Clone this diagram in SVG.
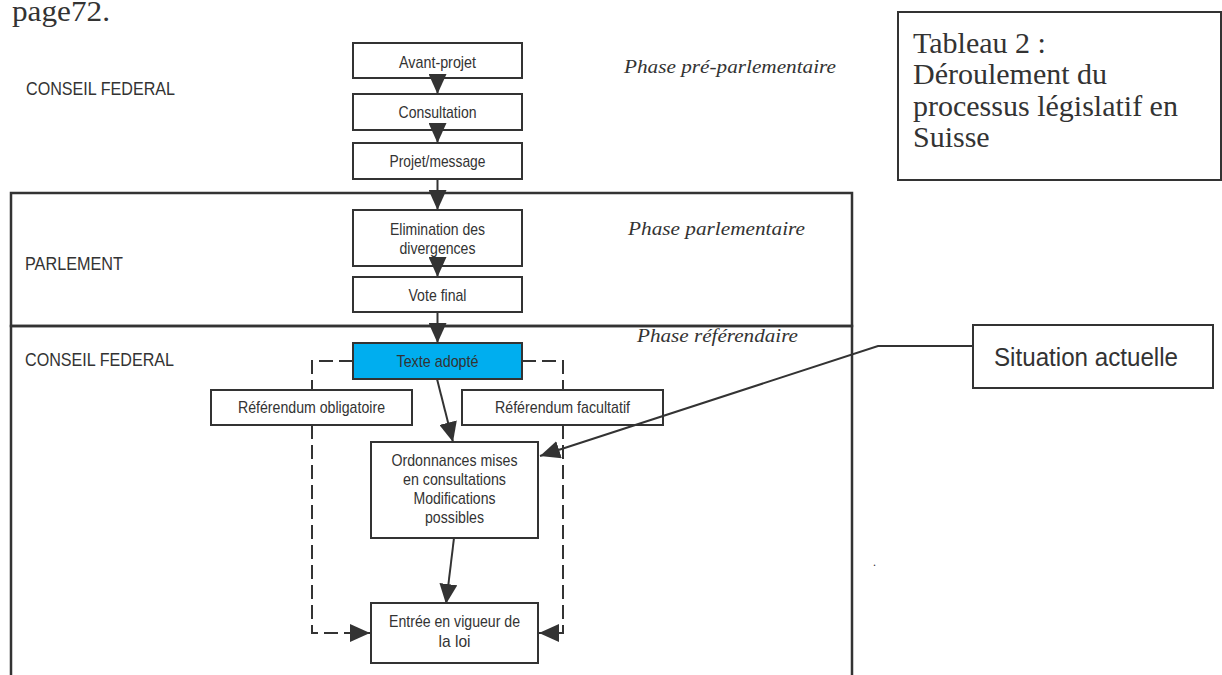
<svg xmlns="http://www.w3.org/2000/svg" width="1222" height="675" viewBox="0 0 1222 675">
  <style>
    .bg { fill: #ffffff; }
    .box { fill: #ffffff; stroke: #333333; stroke-width: 2; }
    .blue { fill: #00AEEF; stroke: #333333; stroke-width: 2; }
    .frame { fill: none; stroke: #333333; stroke-width: 2.5; }
    .lbl { font-family: "Liberation Sans", Arial, sans-serif; font-size: 17px; fill: #333333; text-anchor: middle; }
    .side { font-family: "Liberation Sans", Arial, sans-serif; font-size: 18.5px; fill: #333333; }
    .phase { font-family: "Liberation Serif", "Times New Roman", serif; font-style: italic; font-size: 19px; fill: #333333; }
    .serif { font-family: "Liberation Serif", "Times New Roman", serif; font-size: 30px; fill: #333333; }
    .conn { fill: none; stroke: #333333; stroke-width: 2; }
    .dash { fill: none; stroke: #333333; stroke-width: 2; stroke-dasharray: 14 6; }
  </style>
  <defs>
    <marker id="arr" viewBox="0 0 20 18" refX="20" refY="9" markerWidth="20" markerHeight="18" markerUnits="userSpaceOnUse" orient="auto">
      <path d="M0,0 L20,9 L0,18 Z" fill="#333333"/>
    </marker>
  </defs>
  <rect class="bg" x="0" y="0" width="1222" height="675"/>

  <text class="serif" x="12" y="21" textLength="98" lengthAdjust="spacingAndGlyphs">page72.</text>

  <g id="frames">
    <rect class="frame" x="11" y="193" width="841" height="133"/>
    <path class="frame" d="M11,676 V326 H852 V676"/>
  </g>

  <g id="side-labels">
    <text class="side" x="26" y="95" textLength="149" lengthAdjust="spacingAndGlyphs">CONSEIL FEDERAL</text>
    <text class="side" x="25" y="270" textLength="98" lengthAdjust="spacingAndGlyphs">PARLEMENT</text>
    <text class="side" x="25" y="366" textLength="149" lengthAdjust="spacingAndGlyphs">CONSEIL FEDERAL</text>
  </g>

  <g id="phase-labels">
    <text class="phase" x="624" y="73" textLength="212" lengthAdjust="spacingAndGlyphs">Phase pré-parlementaire</text>
    <text class="phase" x="628" y="235" textLength="177" lengthAdjust="spacingAndGlyphs">Phase parlementaire</text>
    <text class="phase" x="637" y="342" textLength="161" lengthAdjust="spacingAndGlyphs">Phase référendaire</text>
  </g>

  <g id="tableau">
    <rect class="box" x="898" y="12" width="323" height="168"/>
    <text class="serif" x="913" y="53">Tableau 2 :</text>
    <text class="serif" x="913" y="84">Déroulement du</text>
    <text class="serif" x="913" y="116">processus législatif en</text>
    <text class="serif" x="913" y="147">Suisse</text>
  </g>

  <g id="avant-projet">
    <rect class="box" x="353" y="43" width="169" height="35"/>
    <text class="lbl" x="437.5" y="68" textLength="77" lengthAdjust="spacingAndGlyphs">Avant-projet</text>
  </g>
  <g id="consultation">
    <rect class="box" x="353" y="94" width="169" height="36"/>
    <text class="lbl" x="437.5" y="118" textLength="78" lengthAdjust="spacingAndGlyphs">Consultation</text>
  </g>
  <g id="projet-message">
    <rect class="box" x="353" y="143" width="169" height="36"/>
    <text class="lbl" x="437.5" y="167" textLength="96" lengthAdjust="spacingAndGlyphs">Projet/message</text>
  </g>
  <g id="elimination">
    <rect class="box" x="353" y="210" width="169" height="56"/>
    <text class="lbl" x="437.5" y="235" textLength="95" lengthAdjust="spacingAndGlyphs">Elimination des</text>
    <text class="lbl" x="437.5" y="254" textLength="76" lengthAdjust="spacingAndGlyphs">divergences</text>
  </g>
  <g id="vote-final">
    <rect class="box" x="353" y="277" width="169" height="35"/>
    <text class="lbl" x="437.5" y="301" textLength="58" lengthAdjust="spacingAndGlyphs">Vote final</text>
  </g>
  <g id="texte-adopte">
    <rect class="blue" x="353" y="343" width="169" height="36"/>
    <text class="lbl" x="437.5" y="367" textLength="82" lengthAdjust="spacingAndGlyphs">Texte adopté</text>
  </g>
  <g id="referendum-obligatoire">
    <rect class="box" x="211" y="390" width="201" height="35"/>
    <text class="lbl" x="311.5" y="413" textLength="147" lengthAdjust="spacingAndGlyphs">Référendum obligatoire</text>
  </g>
  <g id="referendum-facultatif">
    <rect class="box" x="462" y="390" width="201" height="35"/>
    <text class="lbl" x="562.5" y="413" textLength="135" lengthAdjust="spacingAndGlyphs">Référendum facultatif</text>
  </g>
  <g id="ordonnances">
    <rect class="box" x="371" y="442" width="167" height="96"/>
    <text class="lbl" x="454.5" y="466" textLength="126" lengthAdjust="spacingAndGlyphs">Ordonnances mises</text>
    <text class="lbl" x="454.5" y="485" textLength="103" lengthAdjust="spacingAndGlyphs">en consultations</text>
    <text class="lbl" x="454.5" y="504" textLength="82" lengthAdjust="spacingAndGlyphs">Modifications</text>
    <text class="lbl" x="454.5" y="523" textLength="59" lengthAdjust="spacingAndGlyphs">possibles</text>
  </g>
  <g id="entree-en-vigueur">
    <rect class="box" x="371" y="603" width="167" height="60"/>
    <text class="lbl" x="454.5" y="627" textLength="131" lengthAdjust="spacingAndGlyphs">Entrée en vigueur de</text>
    <text class="lbl" x="454.5" y="647" textLength="32" lengthAdjust="spacingAndGlyphs">la loi</text>
  </g>
  <g id="situation-actuelle">
    <rect class="box" x="973" y="325" width="240" height="63"/>
    <text class="lbl" x="1086" y="366" style="font-size:25px" textLength="184" lengthAdjust="spacingAndGlyphs">Situation actuelle</text>
  </g>

  <text x="873" y="566" style="font-family:'Liberation Serif',serif;font-size:12px;fill:#333333">.</text>

  <g id="connectors">
    <line class="conn" x1="437.5" y1="78" x2="437.5" y2="94" marker-end="url(#arr)"/>
    <line class="conn" x1="437.5" y1="130" x2="437.5" y2="143" marker-end="url(#arr)"/>
    <line class="conn" x1="437.5" y1="179" x2="437.5" y2="210" marker-end="url(#arr)"/>
    <line class="conn" x1="437.5" y1="266" x2="437.5" y2="277" marker-end="url(#arr)"/>
    <line class="conn" x1="437.5" y1="312" x2="437.5" y2="343" marker-end="url(#arr)"/>
    <line class="conn" x1="437" y1="379" x2="453" y2="442" marker-end="url(#arr)"/>
    <line class="conn" x1="454" y1="538" x2="446" y2="604" marker-end="url(#arr)"/>
    <path class="dash" d="M353,361 H312 V390"/>
    <path class="dash" d="M312,425 V633 H370" marker-end="url(#arr)"/>
    <path class="dash" d="M522,361 H563 V390"/>
    <path class="dash" d="M563,425 V633 H539" marker-end="url(#arr)"/>
    <polyline class="conn" points="973,346 878,346 540,456" marker-end="url(#arr)"/>
  </g>
</svg>
